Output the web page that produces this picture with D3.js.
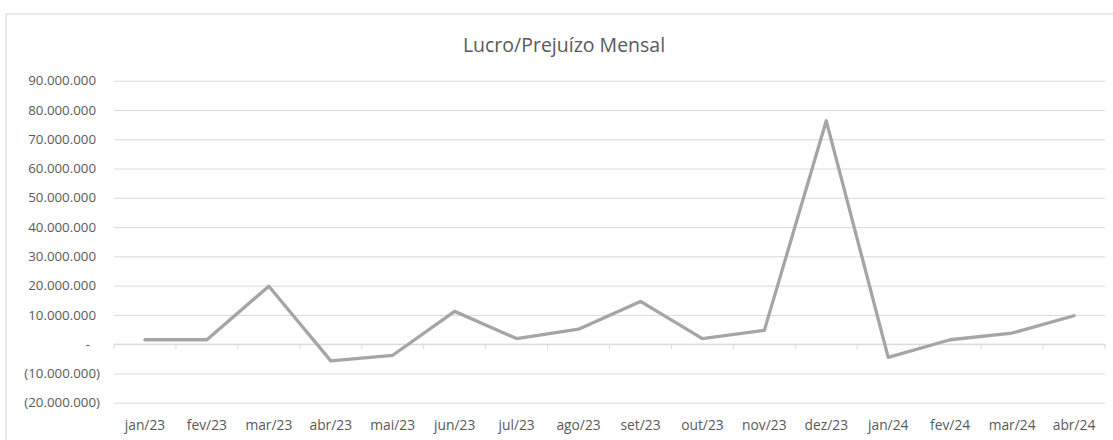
<!DOCTYPE html>
<html><head><meta charset="utf-8">
<script src="https://cdn.jsdelivr.net/npm/d3@7"></script>
<style>body{margin:0;background:#fff}svg{display:block}</style>
</head><body>
<script>
const categories = ["jan/23","fev/23","mar/23","abr/23","mai/23","jun/23","jul/23","ago/23","set/23","out/23","nov/23","dez/23","jan/24","fev/24","mar/24","abr/24"];
const lucroPrejuizo = [1500000,1500000,19800000,-5700000,-3800000,11200000,1900000,5100000,14600000,1900000,4700000,76300000,-4500000,1500000,3800000,9700000];
const yTicks = [-20000000,-10000000,0,10000000,20000000,30000000,40000000,50000000,60000000,70000000,80000000,90000000];
const title = "Lucro/Prejuízo Mensal";

const W = 1113, H = 440;
const mLeft = 114, mRight = 1105, mTop = 80.7, mBottom = 402.7;
const font = "'Open Sans', sans-serif";
const svg = d3.select("body").append("svg").attr("width", W).attr("height", H);

svg.append("rect").attr("x",6).attr("y",14).attr("width",1116).attr("height",440)
  .attr("fill","#fff").attr("stroke","#d9d9d9").attr("stroke-width",1.2);

const x = d3.scaleBand().domain(categories).range([mLeft,mRight]);
const y = d3.scaleLinear().domain([-20000000,90000000]).range([mBottom,mTop]);

svg.append("text").attr("x",564).attr("y",52).attr("text-anchor","middle")
  .attr("font-family",font).attr("font-size",19.5).attr("fill","#595959").text(title);

const fmtN = d3.formatLocale({decimal:",",thousands:".",grouping:[3],currency:["R$",""]}).format(",.0f");
const fmt = v => v===0 ? "-" : v<0 ? "("+fmtN(-v)+")" : fmtN(v);

// grid
svg.append("g").attr("transform",`translate(${mLeft},0)`)
  .call(d3.axisLeft(y).tickValues(yTicks).tickSize(-(mRight-mLeft)).tickFormat(""))
  .call(g=>g.select(".domain").remove())
  .call(g=>g.selectAll(".tick line").attr("stroke","#d9d9d9").attr("stroke-width",1));

// y labels
svg.append("g").selectAll("text").data(yTicks).join("text")
  .attr("x",d=> d<0 ? 100 : d===0 ? 90 : 96)
  .attr("y",d=>y(d)).attr("dy","0.35em").attr("text-anchor","end")
  .attr("font-family",font).attr("font-size",13.3).attr("fill","#595959")
  .text(fmt);

// x axis at zero
const boundaries = categories.map(c=>x(c)).concat([mRight]);
const xa = svg.append("g");
xa.append("line").attr("x1",mLeft).attr("x2",mRight).attr("y1",y(0)).attr("y2",y(0))
  .attr("stroke","#d9d9d9").attr("stroke-width",1);
xa.selectAll("line.tk").data(boundaries).join("line").attr("class","tk")
  .attr("x1",d=>d).attr("x2",d=>d).attr("y1",y(0)).attr("y2",y(0)+5)
  .attr("stroke","#d9d9d9").attr("stroke-width",1);

svg.append("g").attr("transform",`translate(0,${mBottom})`)
  .call(d3.axisBottom(x).tickSize(0).tickPadding(0))
  .call(g=>g.select(".domain").remove())
  .call(g=>g.selectAll("text").attr("y",27.5).attr("dy","0").attr("font-family",font).attr("font-size",13.8).attr("fill","#595959"));

const line = d3.line().x((d,i)=>x(categories[i])+x.bandwidth()/2).y(d=>y(d));
svg.append("path").datum(lucroPrejuizo).attr("d",line).attr("fill","none")
  .attr("stroke","#a5a5a5").attr("stroke-width",3.3).attr("stroke-linejoin","round").attr("stroke-linecap","round");
</script>
</body></html>
